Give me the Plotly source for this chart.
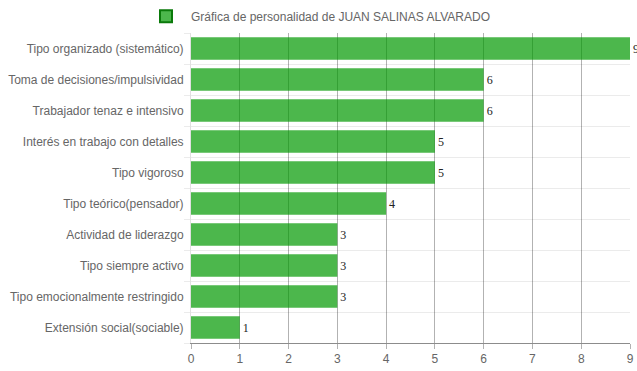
import plotly.graph_objects as go

categories = [
    "Tipo organizado (sistemático)",
    "Toma de decisiones/impulsividad",
    "Trabajador tenaz e intensivo",
    "Interés en trabajo con detalles",
    "Tipo vigoroso",
    "Tipo teórico(pensador)",
    "Actividad de liderazgo",
    "Tipo siempre activo",
    "Tipo emocionalmente restringido",
    "Extensión social(sociable)",
]
values = [9, 6, 6, 5, 5, 4, 3, 3, 3, 1]
series_name = "Gráfica de personalidad de JUAN SALINAS ALVARADO"
x_ticks = list(range(0, 10))

positions = list(range(len(categories)))

fig = go.Figure()
fig.add_trace(go.Bar(
    y=positions, x=values, orientation="h",
    width=0.72,
    marker=dict(color="rgba(0,153,0,0.7)", line=dict(width=0)),
    text=[str(v) for v in values],
    textposition="outside",
    textfont=dict(family="Liberation Serif", size=12, color="#222"),
    cliponaxis=False,
    showlegend=False,
    hoverinfo="skip",
))
# legend entry
fig.add_trace(go.Bar(
    y=[None], x=[None], orientation="h",
    name=series_name,
    marker=dict(color="rgba(0,153,0,0.7)", line=dict(width=2, color="#0a7a0a")),
    showlegend=True,
))

fig.update_layout(
    width=637, height=371,
    margin=dict(l=191, r=7, t=33, b=28),
    paper_bgcolor="white", plot_bgcolor="white",
    font=dict(family="Liberation Sans, Arial", size=12, color="#666"),
    showlegend=True,
    legend=dict(
        orientation="h", xref="container", yref="container",
        x=0.5, xanchor="center", y=0.995, yanchor="top",
        font=dict(size=12, color="#666"),
        itemwidth=40,
    ),
    barmode="overlay",
    uniformtext=dict(minsize=8, mode="show"),
)
fig.update_xaxes(
    range=[0, 9], tickvals=x_ticks, ticktext=[str(t) for t in x_ticks],
    showgrid=True, gridcolor="rgba(0,0,0,0.3)", gridwidth=1,
    zeroline=False, automargin=False,
    showline=True, linecolor="rgba(0,0,0,0.45)", linewidth=1,
    ticks="outside", ticklen=5, tickcolor="rgba(0,0,0,0.3)",
    tickfont=dict(size=12, color="#666"),
)
fig.update_yaxes(
    range=[len(categories) - 0.5, -0.5],
    tickvals=positions, ticktext=categories,
    showgrid=False, zeroline=False, automargin=False,
    showline=True, linecolor="rgba(0,0,0,0.12)", linewidth=1,
    ticks="", ticklen=0,
    minor=dict(tick0=0.5, dtick=1, showgrid=True, gridcolor="rgba(0,0,0,0.08)",
               ticks="outside", ticklen=6, tickcolor="rgba(0,0,0,0.08)"),
    tickfont=dict(size=12, color="#666"),
    ticklabelstandoff=4,
)

fig.write_html("out.html")
